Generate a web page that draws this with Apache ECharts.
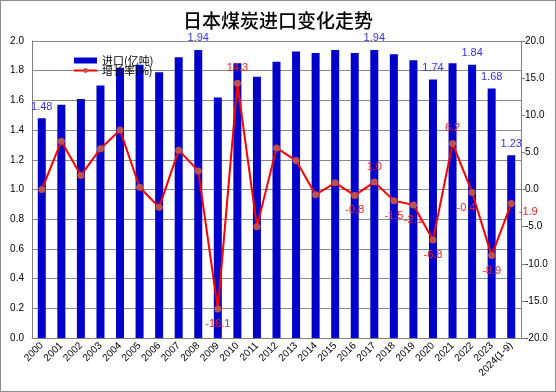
<!DOCTYPE html>
<html><head><meta charset="utf-8">
<script src="https://cdn.jsdelivr.net/npm/echarts@6/dist/echarts.min.js"></script>
<style>html,body{margin:0;padding:0;background:#fff}#c{width:554px;height:390px;border:1px solid #8c8c8c}</style>
</head><body><div id="c"></div>
<script>
const categories = ['2000','2001','2002','2003','2004','2005','2006','2007','2008','2009','2010','2011','2012','2013','2014','2015','2016','2017','2018','2019','2020','2021','2022','2023','2024(1-9)'];
const importVals = [1.48,1.57,1.61,1.70,1.82,1.84,1.79,1.89,1.94,1.62,1.85,1.76,1.86,1.93,1.92,1.94,1.92,1.94,1.91,1.87,1.74,1.85,1.84,1.68,1.23];
const growthVals = [0.0,6.5,1.9,5.5,8.0,0.3,-2.4,5.3,2.5,-16.1,14.3,-5.0,5.6,3.9,-0.7,0.9,-0.8,1.0,-1.5,-2.1,-6.8,6.2,-0.4,-8.9,-1.9];
const importLabelIdx = [0,8,17,20,22,23,24];
const growthLabelPos = {9:'bottom',10:'top',16:'bottom',17:'top',18:'bottom',19:'bottom',20:'bottom',21:'top',22:'bottom',23:'bottom',24:'right'};
const leftTicks = {min:0,max:2,interval:0.2};
const rightTicks = {min:-20,max:20,interval:5};

const chart = echarts.init(document.getElementById('c'));
const F = 'Liberation Sans, DejaVu Sans, sans-serif';
const barData = importVals.map((v,i)=>({value:v,label:{show:importLabelIdx.includes(i)}}));
const lineData = growthVals.map((v,i)=>{
  const p = growthLabelPos[i];
  const o = {value:v,label:{show:!!p}};
  if(p){o.label.position=p;
    if(i===22) o.label.offset=[-6,0];
    if(i===24) o.label.offset=[-2,8];
  }
  return o;
});
chart.setOption({
  animation:false,
  backgroundColor:'#fff',
  title:{text:'日本煤炭进口变化走势',left:'center',top:5,textStyle:{fontFamily:'Noto Sans CJK SC',fontSize:19,fontWeight:'500',color:'#000'}},
  legend:{orient:'vertical',left:67,top:49,itemGap:-1,itemWidth:23,itemHeight:6,
    textStyle:{fontFamily:'Noto Sans CJK SC',fontSize:11,color:'#000',lineHeight:11},
    data:[{name:'进口(亿吨)',icon:'rect'},{name:'增长率(%)'}]},
  grid:{left:31,right:34,top:40,bottom:53,containLabel:false},
  xAxis:{type:'category',data:categories,
    axisLine:{lineStyle:{color:'#808080'}},axisTick:{show:false},
    axisLabel:{interval:0,rotate:45,fontFamily:F,fontSize:10,color:'#000',margin:6}},
  yAxis:[
    {type:'value',min:leftTicks.min,max:leftTicks.max,interval:leftTicks.interval,
     axisLine:{show:true,lineStyle:{color:'#808080'}},axisTick:{show:false},
     axisLabel:{formatter:v=>v.toFixed(1),fontFamily:F,fontSize:10,color:'#000',margin:8},
     splitLine:{lineStyle:{color:'#8a8a8a'}}},
    {type:'value',min:rightTicks.min,max:rightTicks.max,interval:rightTicks.interval,
     axisLine:{show:true,lineStyle:{color:'#808080'}},axisTick:{show:true,length:4,lineStyle:{color:'#808080'}},
     axisLabel:{formatter:v=>v.toFixed(1),fontFamily:F,fontSize:10,color:'#000',margin:4},
     splitLine:{show:false}}
  ],
  series:[
    {name:'进口(亿吨)',type:'bar',data:barData,barWidth:8,itemStyle:{color:'#0000cc'},
     label:{position:'top',distance:6,color:'#3333ee',fontFamily:F,fontSize:11,formatter:p=>p.value.toFixed(2)}},
    {name:'增长率(%)',type:'line',yAxisIndex:1,data:lineData,symbol:'circle',symbolSize:7,
     lineStyle:{color:'#ff0000',width:2},itemStyle:{color:'#c0504d'},
     label:{color:'#ff2020',fontFamily:F,fontSize:11,distance:6,formatter:p=>p.value.toFixed(1)}}
  ]
});
</script></body></html>
